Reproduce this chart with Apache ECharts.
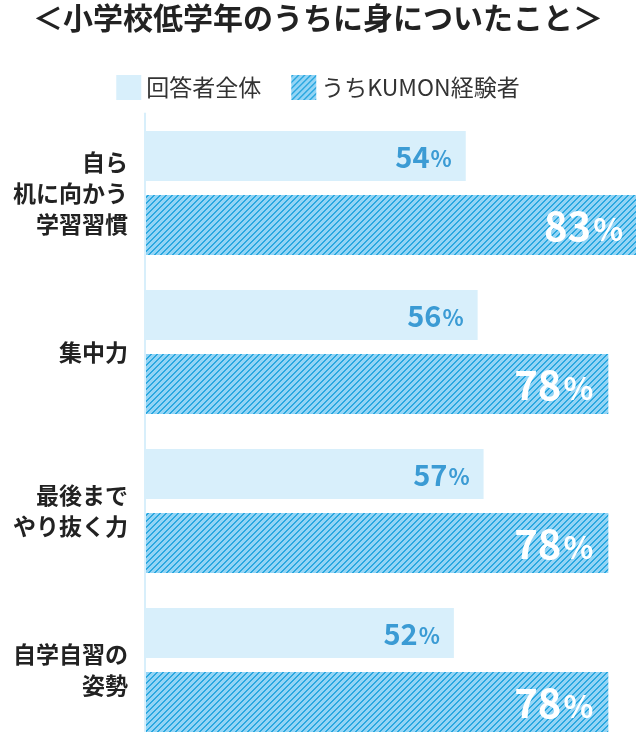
<!DOCTYPE html>
<html>
<head>
<meta charset="utf-8">
<script src="https://cdn.jsdelivr.net/npm/echarts@6/dist/echarts.min.js"></script>
<style>
html,body{margin:0;padding:0;background:#fff;}
#chart{width:636px;height:732px;}
</style>
</head>
<body>
<div id="chart"></div>
<script>
const titleText = '＜小学校低学年のうちに身についたこと＞';
const categories = ['自ら\n机に向かう\n学習習慣', '集中力', '最後まで\nやり抜く力', '自学自習の\n姿勢'];
const seriesNames = ['回答者全体', 'うちKUMON経験者'];
const allRespondents = [54, 56, 57, 52];
const kumonUsers = [83, 78, 78, 78];

const FONT = '"Noto Sans CJK JP", "Noto Sans", sans-serif';

function makePattern() {
  const c = document.createElement('canvas');
  c.width = 6; c.height = 6;
  const ctx = c.getContext('2d');
  ctx.fillStyle = '#93d4f5';
  ctx.fillRect(0, 0, 6, 6);
  ctx.fillStyle = '#2aa8e0';
  for (let x = 0; x < 6; x++) {
    for (let y = 0; y < 6; y++) {
      const m = (x + y) % 6;
      if (m === 0 || m === 1) ctx.fillRect(x, y, 1, 1);
    }
  }
  return { image: c, repeat: 'repeat' };
}
const hatch = makePattern();

const chart = echarts.init(document.getElementById('chart'), null, { renderer: 'canvas' });
chart.setOption({
  animation: false,
  backgroundColor: '#fff',
  title: {
    text: titleText,
    left: 'center',
    top: 3,
    padding: 0,
    textStyle: { fontFamily: FONT, fontSize: 30, fontWeight: 'bold', color: '#222' }
  },
  legend: {
    top: 75,
    left: 'center',
    padding: 0,
    itemWidth: 25,
    itemHeight: 25,
    itemGap: 30,
    icon: 'rect',
    data: seriesNames,
    textStyle: { fontFamily: FONT, fontSize: 23, color: '#333', fontWeight: 'normal' }
  },
  grid: {
    left: 145,
    top: 113.5,
    height: 636,
    width: 594,
    containLabel: false,
    outerBoundsMode: 'none'
  },
  xAxis: {
    type: 'value',
    min: 0,
    max: 100,
    show: false,
    splitLine: { show: false }
  },
  yAxis: {
    type: 'category',
    inverse: true,
    data: categories,
    z: 10,
    axisLine: { show: true, lineStyle: { color: '#d8effb', width: 2 } },
    axisTick: { show: false },
    axisLabel: {
      margin: 17,
      fontFamily: FONT,
      fontSize: 23,
      fontWeight: 'bold',
      color: '#222',
      lineHeight: 31,
      align: 'right'
    }
  },
  series: [
    {
      name: seriesNames[0],
      type: 'bar',
      data: allRespondents,
      barWidth: 50,
      barGap: '28%',
      itemStyle: { color: '#d8effb' },
      label: {
        show: true,
        position: 'insideRight',
        distance: 14,
        formatter: p => '{n|' + p.value + '}{p|%}',
        rich: {
          n: { fontFamily: FONT, fontSize: 29, fontWeight: 'bold', color: '#3b9bd4', verticalAlign: 'bottom', lineHeight: 30 },
          p: { fontFamily: FONT, fontSize: 22, fontWeight: 'bold', color: '#3b9bd4', verticalAlign: 'bottom', lineHeight: 30, padding: [0, 0, 1, 1] }
        }
      }
    },
    {
      name: seriesNames[1],
      type: 'bar',
      data: kumonUsers,
      barWidth: 60,
      itemStyle: { color: hatch },
      label: {
        show: true,
        position: 'insideRight',
        distance: 15,
        formatter: p => '{n|' + p.value + '}{p|%}',
        rich: {
          n: { fontFamily: FONT, fontSize: 40, fontWeight: 'bold', color: '#fff', verticalAlign: 'bottom', lineHeight: 42 },
          p: { fontFamily: FONT, fontSize: 31, fontWeight: 'bold', color: '#fff', verticalAlign: 'bottom', lineHeight: 42, padding: [0, 0, 1, 2] }
        }
      }
    }
  ]
});
</script>
</body>
</html>
